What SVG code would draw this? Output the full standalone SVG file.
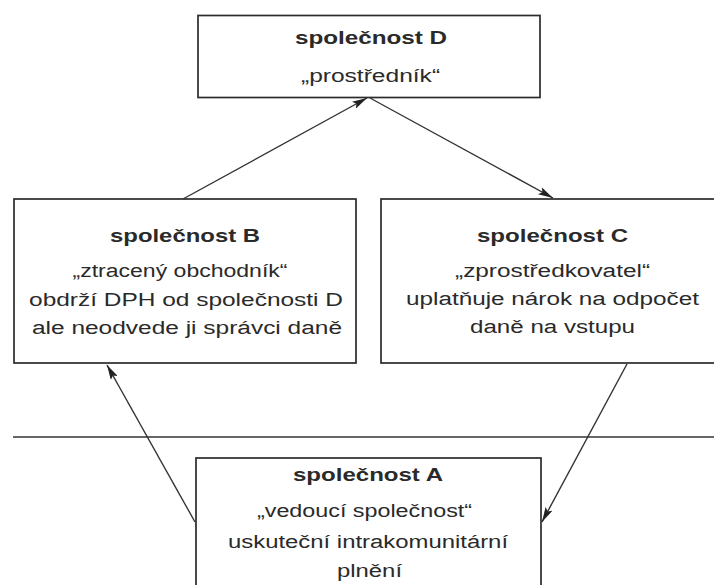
<svg xmlns="http://www.w3.org/2000/svg" width="714" height="585" viewBox="0 0 714 585">
  <style>
    .box { fill: #ffffff; stroke: #2b2b2b; stroke-width: 1.7; }
    .t { font-family: "Liberation Sans", Arial, sans-serif; font-size: 19px; fill: #2a2a2a; text-anchor: middle; }
    .b { font-weight: bold; }
    .conn { stroke: #333333; stroke-width: 1.4; fill: none; marker-end: url(#ah); }
    .sep { stroke: #333333; stroke-width: 1.7; }
  </style>
  <defs>
    <marker id="ah" viewBox="0 0 15 8" markerWidth="15" markerHeight="8" refX="15" refY="4" orient="auto" markerUnits="userSpaceOnUse">
      <path d="M0,0 L15,4 L0,8 L3,4 z" fill="#222222"/>
    </marker>
  </defs>
  <rect width="714" height="585" fill="#ffffff"/>

  <line class="sep" x1="13" y1="437" x2="714" y2="437"/>

  <g id="connectors">
    <line class="conn" x1="183" y1="199" x2="367" y2="98"/>
    <line class="conn" x1="370" y1="98" x2="553" y2="198"/>
    <line class="conn" x1="627" y1="364" x2="542" y2="522"/>
    <line class="conn" x1="195" y1="522" x2="107" y2="365"/>
  </g>

  <g id="node-D">
    <rect class="box" x="198" y="15.5" width="342" height="82"/>
    <text class="t b" transform="matrix(1.3 0 0 1 371 0)" x="0" y="44" textLength="117" lengthAdjust="spacingAndGlyphs">společnost D</text>
    <text class="t" transform="matrix(1.3 0 0 1 370.5 0)" x="0" y="82" textLength="107" lengthAdjust="spacingAndGlyphs">„prostředník“</text>
  </g>

  <g id="node-B">
    <rect class="box" x="14" y="199" width="342" height="164"/>
    <text class="t b" transform="matrix(1.3 0 0 1 185 0)" x="0" y="242" textLength="115.4" lengthAdjust="spacingAndGlyphs">společnost B</text>
    <text class="t" transform="matrix(1.3 0 0 1 180 0)" x="0" y="277" textLength="165.4" lengthAdjust="spacingAndGlyphs">„ztracený obchodník“</text>
    <text class="t" transform="matrix(1.3 0 0 1 186 0)" x="0" y="306" textLength="241.5" lengthAdjust="spacingAndGlyphs">obdrží DPH od společnosti D</text>
    <text class="t" transform="matrix(1.3 0 0 1 187 0)" x="0" y="334" textLength="238.5" lengthAdjust="spacingAndGlyphs">ale neodvede ji správci daně</text>
  </g>

  <g id="node-C">
    <rect class="box" x="381" y="199" width="343" height="164"/>
    <text class="t b" transform="matrix(1.3 0 0 1 552.5 0)" x="0" y="242" textLength="116.2" lengthAdjust="spacingAndGlyphs">společnost C</text>
    <text class="t" transform="matrix(1.3 0 0 1 552.5 0)" x="0" y="277" textLength="150" lengthAdjust="spacingAndGlyphs">„zprostředkovatel“</text>
    <text class="t" transform="matrix(1.3 0 0 1 552.5 0)" x="0" y="305" textLength="225.4" lengthAdjust="spacingAndGlyphs">uplatňuje nárok na odpočet</text>
    <text class="t" transform="matrix(1.3 0 0 1 552.5 0)" x="0" y="333" textLength="126.9" lengthAdjust="spacingAndGlyphs">daně na vstupu</text>
  </g>

  <g id="node-A">
    <rect class="box" x="196" y="458" width="345" height="140"/>
    <text class="t b" transform="matrix(1.3 0 0 1 368 0)" x="0" y="481" textLength="115.4" lengthAdjust="spacingAndGlyphs">společnost A</text>
    <text class="t" transform="matrix(1.3 0 0 1 364.5 0)" x="0" y="517" textLength="165.4" lengthAdjust="spacingAndGlyphs">„vedoucí společnost“</text>
    <text class="t" transform="matrix(1.3 0 0 1 368 0)" x="0" y="548" textLength="215.4" lengthAdjust="spacingAndGlyphs">uskuteční intrakomunitární</text>
    <text class="t" transform="matrix(1.3 0 0 1 369.5 0)" x="0" y="577" textLength="50" lengthAdjust="spacingAndGlyphs">plnění</text>
  </g>
</svg>
